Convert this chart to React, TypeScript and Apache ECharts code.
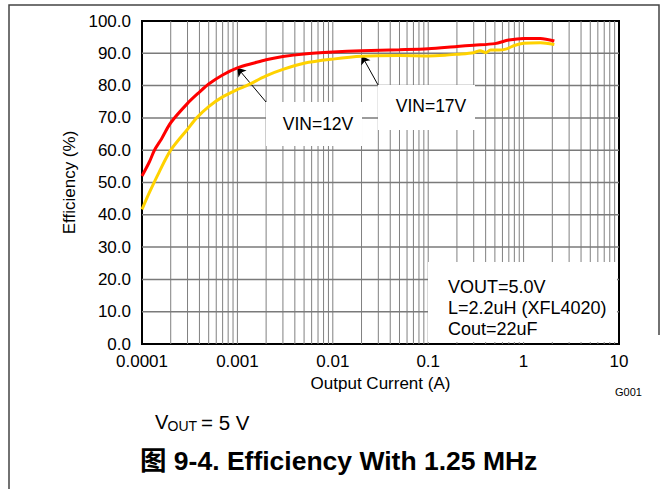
import React, { useEffect, useRef } from 'react';
import * as echarts from 'echarts';

// Output current (A) and efficiency (%) for each input voltage
const vin12Current = [0.0001, 0.00012, 0.000135, 0.00016, 0.0002, 0.0003, 0.0004, 0.0005, 0.0007, 0.001, 0.0015, 0.002, 0.003, 0.005, 0.01, 0.02, 0.05, 0.1, 0.2, 0.3, 0.5, 0.7, 1.0, 1.5, 2.1];
const vin12Eff = [52, 56.5, 60, 63.5, 68.5, 74.5, 78, 80.5, 83.3, 85.5, 87, 88, 89, 89.8, 90.4, 90.8, 91.1, 91.4, 92.1, 92.5, 93.0, 94.1, 94.6, 94.6, 93.8];

const vin17Current = [0.0001, 0.00012, 0.00015, 0.0002, 0.0003, 0.000374, 0.0005, 0.0007, 0.001, 0.00125, 0.002, 0.003, 0.005, 0.01, 0.02, 0.05, 0.1, 0.15, 0.2, 0.3, 0.35, 0.4, 0.45, 0.55, 0.65, 0.8, 1.0, 1.5, 2.1];
const vin17Eff = [41.7, 47, 53, 60, 66.5, 70, 73.5, 76.5, 78.8, 80, 83, 85, 86.9, 88.2, 89.1, 89.3, 89.2, 89.4, 89.7, 90.2, 90.8, 90.2, 91.0, 91.0, 91.3, 92.4, 93.1, 93.3, 92.7];

const X_MIN = 0.0001;
const X_MAX = 10;
const Y_MIN = 0;
const Y_MAX = 100;
const xTickLabels = ['0.0001', '0.001', '0.01', '0.1', '1', '10'];
const gridDecades = [0.0001, 0.001, 0.01, 0.1, 1];
const gridMultipliers = [1, 2, 3, 4, 5, 6, 7, 8, 9];
const yGridValues = [10, 20, 30, 40, 50, 60, 70, 80, 90];

// annotation arrows: [tail, tip] in data coordinates
const arrow12 = [[0.002, 74.9], [0.001, 85.5]];
const arrow17 = [[0.0298, 80.2], [0.0202, 89.2]];

const legendLines = ['VOUT=5.0V', 'L=2.2uH (XFL4020)', 'Cout=22uF'];

const FONT = '"Liberation Sans", Arial, Helvetica, "Noto Sans CJK SC", sans-serif';
const GRID_COLOR = '#808080';
const HGRID_COLOR = '#7a7a7a';
const GRID_LEFT = 142;
const GRID_RIGHT = 46;
const CHART_W = 665;

function txt(text: string, x: number, y: number, size: number, align: string, extra: any = {}) {
  return {
    type: 'text',
    x,
    y,
    z: 60,
    style: {
      text,
      fontSize: size,
      fontFamily: FONT,
      fill: '#000',
      align,
      verticalAlign: 'middle',
      textAlign: align,
      textVerticalAlign: 'middle',
      ...extra,
    },
  };
}

export default function App() {
  const ref = useRef<HTMLDivElement>(null);

  useEffect(() => {
    if (!ref.current) return;
    const chart = echarts.init(ref.current, undefined, { renderer: 'svg' });

    const vValues: number[] = [];
    gridDecades.forEach((d, i) =>
      gridMultipliers.forEach((m) => {
        if (!(i === 0 && m === 1)) vValues.push(d * m);
      })
    );

    const arrowLine = (a: number[][]) => ({
      silent: true,
      symbol: ['none', 'arrow'],
      symbolSize: 8,
      precision: 10,
      label: { show: false },
      lineStyle: { color: '#000', width: 1, type: 'solid' },
      emphasis: { disabled: true },
      data: [[{ coord: a[0] }, { coord: a[1] }]],
    });

    const staticGraphic: any[] = [
      {
        type: 'polyline',
        z: 0,
        shape: { points: [[9, 489], [9, 5], [659, 5], [659, 335]] },
        style: { stroke: '#444', lineWidth: 1.5, fill: null },
      },
      { type: 'rect', z: 50, shape: { x: 266, y: 102, width: 96, height: 44 }, style: { fill: '#fff', stroke: null } },
      { type: 'rect', z: 50, shape: { x: 378, y: 85, width: 97, height: 45 }, style: { fill: '#fff', stroke: null } },
      { type: 'rect', z: 50, shape: { x: 428, y: 262, width: 189, height: 80 }, style: { fill: '#fff', stroke: null } },
      txt('VIN=12V', 318, 124, 17.5, 'center'),
      txt('VIN=17V', 431, 106, 17.5, 'center'),
      txt(legendLines[0], 448, 287, 18, 'left'),
      txt(legendLines[1], 448, 308, 18, 'left'),
      txt(legendLines[2], 448, 329, 18, 'left'),
      txt('G001', 615, 392, 11, 'left'),
      txt('V', 155, 422, 20, 'left'),
      txt('OUT', 167.5, 426, 14, 'left'),
      txt('= 5 V', 201, 422, 20.5, 'left'),
      txt('图 9-4. Efficiency With 1.25 MHz', 140, 461, 26.5, 'left', { fontWeight: 'bold' }),
    ];

    chart.setOption({
      animation: false,
      backgroundColor: '#fff',
      grid: {
        left: GRID_LEFT,
        right: GRID_RIGHT,
        top: 21,
        bottom: 145,
        show: true,
        borderColor: '#000',
        borderWidth: 2,
        backgroundColor: 'transparent',
        containLabel: false,
        outerBoundsMode: 'none',
      },
      xAxis: {
        type: 'log',
        logBase: 10,
        min: X_MIN,
        max: X_MAX,
        name: 'Output Current (A)',
        nameLocation: 'middle',
        nameGap: 30,
        nameTextStyle: { fontSize: 17, fontFamily: FONT, color: '#000' },
        axisLine: { show: true, lineStyle: { color: '#000', width: 2 } },
        axisTick: { show: false },
        axisLabel: {
          margin: 9,
          fontSize: 17,
          fontFamily: FONT,
          color: '#000',
          formatter: (v: number) => xTickLabels[Math.round(Math.log10(v)) + 4] ?? '',
        },
        splitLine: { show: false },
      },
      yAxis: {
        type: 'value',
        min: Y_MIN,
        max: Y_MAX,
        interval: 10,
        name: 'Efficiency (%)',
        nameLocation: 'middle',
        nameGap: 62,
        nameTextStyle: { fontSize: 17, fontFamily: FONT, color: '#000' },
        axisLine: { show: true, lineStyle: { color: '#000', width: 2 } },
        axisTick: { show: false },
        axisLabel: {
          margin: 11,
          fontSize: 17,
          fontFamily: FONT,
          color: '#000',
          formatter: (v: number) => v.toFixed(1),
        },
        splitLine: { show: false },
      },
      series: [
        {
          name: 'vGridLines',
          type: 'custom',
          silent: true,
          z: 1,
          encode: { x: 0, y: 1 },
          data: vValues.map((v) => [v, Y_MIN]),
          renderItem: (params: any, api: any) => {
            const cs = params.coordSys;
            const p = api.coord([api.value(0), api.value(1)]);
            return {
              type: 'rect',
              shape: { x: p[0] - 0.5, y: cs.y, width: 1, height: cs.height },
              style: { fill: GRID_COLOR },
            };
          },
        },
        {
          name: 'VIN=17V',
          type: 'line',
          z: 5,
          data: vin17Current.map((c, i) => [c, vin17Eff[i]]),
          showSymbol: false,
          smooth: 0.3,
          lineStyle: { color: '#FFD200', width: 3 },
          itemStyle: { color: '#FFD200' },
          markLine: arrowLine(arrow17),
        },
        {
          name: 'VIN=12V',
          type: 'line',
          z: 6,
          data: vin12Current.map((c, i) => [c, vin12Eff[i]]),
          showSymbol: false,
          smooth: 0.3,
          lineStyle: { color: '#FF0000', width: 3 },
          itemStyle: { color: '#FF0000' },
          markLine: arrowLine(arrow12),
        },
      ],
      graphic: staticGraphic,
    });

    // horizontal grid lines positioned through the y axis scale
    let xl = Number(chart.convertToPixel({ xAxisIndex: 0 } as any, X_MIN));
    let xr = Number(chart.convertToPixel({ xAxisIndex: 0 } as any, X_MAX));
    if (!isFinite(xl)) xl = GRID_LEFT;
    if (!isFinite(xr)) xr = CHART_W - GRID_RIGHT;
    const hLines = yGridValues
      .map((v) => Number(chart.convertToPixel({ yAxisIndex: 0 } as any, v)))
      .filter((y) => isFinite(y))
      .map((y) => ({
        type: 'line',
        z: 1,
        silent: true,
        shape: { x1: xl, y1: y, x2: xr, y2: y },
        style: { stroke: HGRID_COLOR, lineWidth: 1.5 },
      }));

    chart.setOption({ graphic: [...hLines, ...staticGraphic] }, { replaceMerge: ['graphic'] } as any);

    return () => chart.dispose();
  }, []);

  return (
    <div
      ref={ref}
      style={{ position: 'fixed', left: 0, top: 0, width: 665, height: 489, background: '#fff' }}
    />
  );
}
